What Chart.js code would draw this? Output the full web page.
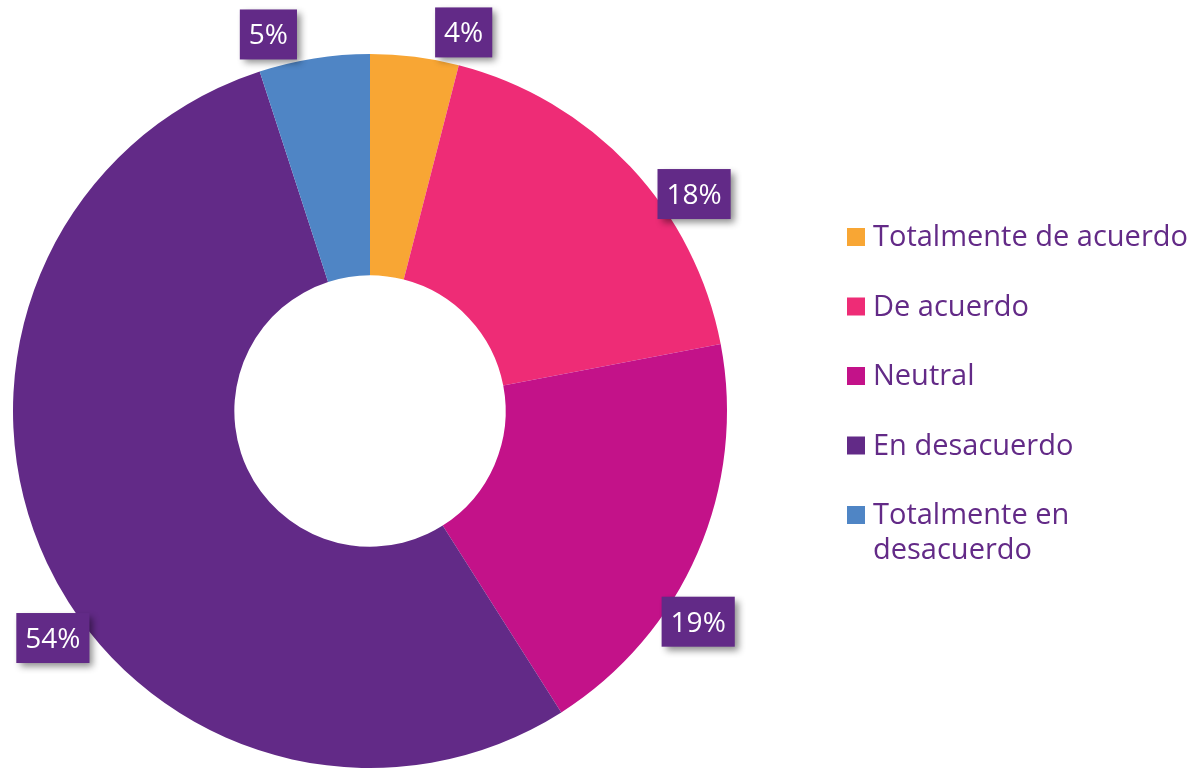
<!DOCTYPE html>
<html>
<head>
<meta charset="utf-8">
<script src="https://cdn.jsdelivr.net/npm/chart.js@4/dist/chart.umd.min.js"></script>
<style>
html,body{margin:0;padding:0;background:#fff;}
#wrap{width:1192px;height:769px;position:relative;}
</style>
</head>
<body>
<div id="wrap"><canvas id="c" width="1192" height="769"></canvas></div>
<script>
const categories = ["Totalmente de acuerdo", "De acuerdo", "Neutral", "En desacuerdo", "Totalmente en desacuerdo"];
const values = [4, 18, 19, 54, 5];
const valueLabels = ["4%", "18%", "19%", "54%", "5%"];
const colors = ["#F8A634", "#EE2C76", "#C31289", "#622A87", "#4F85C5"];

// label placement (degrees clockwise from top) – layout config, not data
const labelAngleDeg = [13.9, 56.2, 122.7, 234.4, 344.9];
const labelRadiusOffset = 33;

const FONT = "'Open Sans', 'DejaVu Sans', sans-serif";
const TEXT_COLOR = "#632A87";

const labelPlugin = {
  id: 'boxLabels',
  afterDatasetsDraw(chart) {
    const ctx = chart.ctx;
    const meta = chart.getDatasetMeta(0);
    ctx.save();
    ctx.font = "28px " + FONT;
    meta.data.forEach((arc, i) => {
      const p = arc.getProps(['x', 'y', 'outerRadius'], true);
      const a = labelAngleDeg[i] * Math.PI / 180;
      const r = p.outerRadius + labelRadiusOffset;
      const cx = p.x + r * Math.sin(a);
      const cy = p.y - r * Math.cos(a);
      const txt = valueLabels[i];
      const w = ctx.measureText(txt).width + 18;
      const h = 50;
      ctx.save();
      ctx.shadowColor = 'rgba(0,0,0,0.45)';
      ctx.shadowBlur = 7;
      ctx.shadowOffsetX = 4;
      ctx.shadowOffsetY = 4;
      ctx.fillStyle = "#622A87";
      ctx.fillRect(cx - w / 2, cy - h / 2, w, h);
      ctx.restore();
      ctx.fillStyle = "#ffffff";
      ctx.textAlign = 'center';
      ctx.textBaseline = 'middle';
      ctx.fillText(txt, cx, cy + 2);
    });
    ctx.restore();
  }
};

const legendPlugin = {
  id: 'sideLegend',
  afterDraw(chart) {
    const ctx = chart.ctx;
    ctx.save();
    ctx.font = "29px " + FONT;
    ctx.textBaseline = 'middle';
    ctx.textAlign = 'left';
    const boxX = 847, textX = 873, startY = 237, rowGap = 69.5, lineH = 35, maxW = 318;
    let y = startY;
    categories.forEach((name, i) => {
      const words = name.split(' ');
      const lines = [];
      let cur = '';
      words.forEach(w => {
        const t = cur ? cur + ' ' + w : w;
        if (ctx.measureText(t).width > maxW && cur) { lines.push(cur); cur = w; }
        else cur = t;
      });
      if (cur) lines.push(cur);
      ctx.fillStyle = colors[i];
      ctx.fillRect(boxX, y - 9, 18, 18);
      ctx.fillStyle = TEXT_COLOR;
      lines.forEach((ln, k) => ctx.fillText(ln, textX, y + 1 + k * lineH));
      y += rowGap;
    });
    ctx.restore();
  }
};

new Chart(document.getElementById('c'), {
  type: 'doughnut',
  data: {
    labels: categories,
    datasets: [{
      data: values,
      backgroundColor: colors,
      borderWidth: 0
    }]
  },
  options: {
    responsive: false,
    devicePixelRatio: 1,
    animation: false,
    cutout: '38%',
    layout: { padding: { top: 54, bottom: 1, left: 13, right: 465 } },
    plugins: {
      legend: { display: false },
      tooltip: { enabled: false }
    }
  },
  plugins: [labelPlugin, legendPlugin]
});
</script>
</body>
</html>
